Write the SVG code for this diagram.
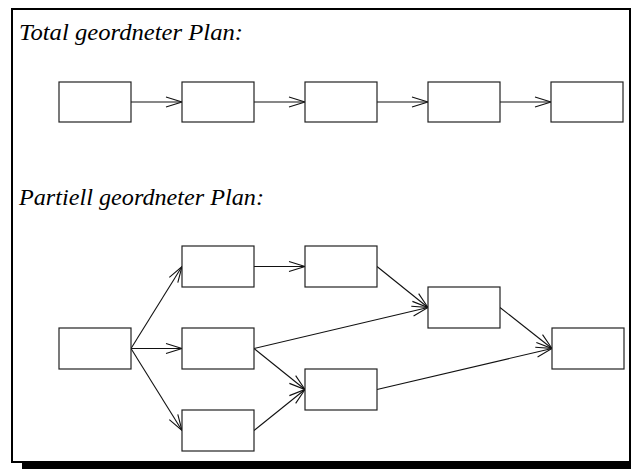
<svg xmlns="http://www.w3.org/2000/svg" width="631" height="469" viewBox="0 0 631 469">
  <style>
    .box { fill: #fff; stroke: #222; stroke-width: 1.2; }
    .edge { fill: none; stroke: #111; stroke-width: 1.1; marker-end: url(#arr); }
    .title { font-family: "Liberation Serif", "Times New Roman", serif; font-style: italic; font-size: 24px; fill: #000; }
  </style>
  <defs>
    <marker id="arr" markerUnits="userSpaceOnUse" markerWidth="20" markerHeight="14" viewBox="-17 -7 20 14" refX="0" refY="0" orient="auto">
      <path d="M-16,-5 L0,0 L-16,5" fill="none" stroke="#111" stroke-width="1.1"/>
    </marker>
  </defs>
  <rect x="0" y="0" width="631" height="469" fill="#fff"/>
  <!-- frame with drop shadow -->
  <rect x="22" y="462" width="609" height="7" fill="#000"/>
  <rect x="12" y="9" width="618" height="453" fill="#fff" stroke="#000" stroke-width="2"/>

  <text class="title" x="19" y="40" textLength="224" lengthAdjust="spacingAndGlyphs">Total geordneter Plan:</text>
  <text class="title" x="19" y="205" textLength="245" lengthAdjust="spacingAndGlyphs">Partiell geordneter Plan:</text>

  <g id="connectors">
    <line class="edge" x1="131" y1="102" x2="182" y2="102"/>
    <line class="edge" x1="254" y1="102" x2="305" y2="102"/>
    <line class="edge" x1="377" y1="102" x2="428" y2="102"/>
    <line class="edge" x1="500" y1="102" x2="551" y2="102"/>

    <line class="edge" x1="131" y1="348.5" x2="182" y2="266.5"/>
    <line class="edge" x1="131" y1="348.5" x2="182" y2="348.5"/>
    <line class="edge" x1="131" y1="348.5" x2="182" y2="430.5"/>
    <line class="edge" x1="254" y1="266.5" x2="305" y2="266.5"/>
    <line class="edge" x1="254" y1="348.5" x2="428" y2="307.5"/>
    <line class="edge" x1="254" y1="348.5" x2="305" y2="389.5"/>
    <line class="edge" x1="254" y1="430.5" x2="305" y2="389.5"/>
    <line class="edge" x1="377" y1="266.5" x2="428" y2="307.5"/>
    <line class="edge" x1="500" y1="307.5" x2="552" y2="348.5"/>
    <line class="edge" x1="377" y1="389.5" x2="552" y2="348.5"/>
  </g>

  <!-- totally ordered plan -->
  <g id="t1"><rect class="box" x="59" y="82" width="72" height="40"/></g>
  <g id="t2"><rect class="box" x="182" y="82" width="72" height="40"/></g>
  <g id="t3"><rect class="box" x="305" y="82" width="72" height="40"/></g>
  <g id="t4"><rect class="box" x="428" y="82" width="72" height="40"/></g>
  <g id="t5"><rect class="box" x="551" y="82" width="72" height="40"/></g>

  <!-- partially ordered plan -->
  <g id="p-start"><rect class="box" x="59" y="328" width="72" height="41"/></g>
  <g id="p-b1"><rect class="box" x="182" y="246" width="72" height="41"/></g>
  <g id="p-b2"><rect class="box" x="182" y="328" width="72" height="41"/></g>
  <g id="p-b3"><rect class="box" x="182" y="410" width="72" height="41"/></g>
  <g id="p-c1"><rect class="box" x="305" y="246" width="72" height="41"/></g>
  <g id="p-c2"><rect class="box" x="305" y="369" width="72" height="41"/></g>
  <g id="p-d"><rect class="box" x="428" y="287" width="72" height="41"/></g>
  <g id="p-end"><rect class="box" x="552" y="328" width="72" height="41"/></g>
</svg>
